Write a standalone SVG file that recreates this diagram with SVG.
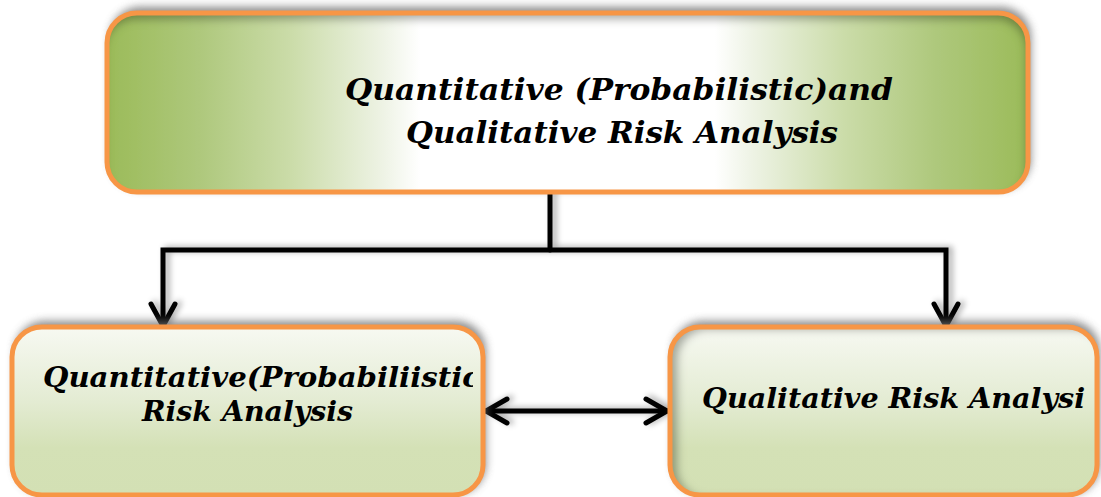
<svg xmlns="http://www.w3.org/2000/svg" width="1101" height="497" viewBox="0 0 1101 497">
  <defs>
    <linearGradient id="gradTop" x1="0" y1="0" x2="1" y2="0">
      <stop offset="0" stop-color="#9BBB59"/>
      <stop offset="0.1" stop-color="#AEC87C"/>
      <stop offset="0.2" stop-color="#CBDCA9"/>
      <stop offset="0.3" stop-color="#EEF3E5"/>
      <stop offset="0.34" stop-color="#FFFFFF"/>
      <stop offset="0.66" stop-color="#FFFFFF"/>
      <stop offset="0.7" stop-color="#EEF3E5"/>
      <stop offset="0.8" stop-color="#CBDCA9"/>
      <stop offset="0.9" stop-color="#AEC87C"/>
      <stop offset="1" stop-color="#9BBB59"/>
    </linearGradient>
    <linearGradient id="gradLow" x1="0" y1="0" x2="0" y2="1">
      <stop offset="0" stop-color="#F7F9F2"/>
      <stop offset="0.45" stop-color="#E3EBD2"/>
      <stop offset="0.72" stop-color="#D4E1B6"/>
      <stop offset="1" stop-color="#D3E0B4"/>
    </linearGradient>
    <filter id="outerShadow" x="-10%" y="-20%" width="120%" height="140%">
      <feGaussianBlur stdDeviation="4"/>
    </filter>
    <filter id="lineShadow" x="-10%" y="-20%" width="120%" height="140%">
      <feGaussianBlur in="SourceAlpha" stdDeviation="3" result="b"/>
      <feOffset dx="4" dy="-1" result="o"/>
      <feComponentTransfer in="o" result="s">
        <feFuncA type="linear" slope="0.35"/>
      </feComponentTransfer>
      <feMerge>
        <feMergeNode in="s"/>
        <feMergeNode in="SourceGraphic"/>
      </feMerge>
    </filter>
    <filter id="insetTop" x="-5%" y="-10%" width="110%" height="120%">
      <feFlood flood-color="#3a4028" flood-opacity="0.6"/>
      <feComposite in2="SourceAlpha" operator="out"/>
      <feOffset dx="-2" dy="7"/>
      <feGaussianBlur stdDeviation="4"/>
      <feComposite in2="SourceAlpha" operator="in" result="inner"/>
      <feMerge>
        <feMergeNode in="SourceGraphic"/>
        <feMergeNode in="inner"/>
      </feMerge>
    </filter>
    <filter id="insetLeft" x="-5%" y="-10%" width="110%" height="120%">
      <feFlood flood-color="#3a4028" flood-opacity="0.6"/>
      <feComposite in2="SourceAlpha" operator="out"/>
      <feOffset dx="8" dy="3"/>
      <feGaussianBlur stdDeviation="4"/>
      <feComposite in2="SourceAlpha" operator="in" result="inner"/>
      <feMerge>
        <feMergeNode in="SourceGraphic"/>
        <feMergeNode in="inner"/>
      </feMerge>
    </filter>
    <clipPath id="clipLeft">
      <rect x="14" y="329" width="459" height="164"/>
    </clipPath>
    <clipPath id="clipRight">
      <rect x="672" y="329" width="415" height="164"/>
    </clipPath>
  </defs>
  <style>
    .shadow { fill: #6e6e6e; opacity: 0.8; }
    .border { fill: none; stroke: #F79646; stroke-width: 5; }
    .label { font-family: "DejaVu Serif", "Liberation Serif", serif; font-style: italic; font-weight: bold; fill: #000; }
    .big { font-size: 30px; }
    .small { font-size: 28px; }
    .wire { fill: none; stroke: #000; stroke-width: 5; stroke-linecap: round; stroke-linejoin: miter; }
  </style>

  <rect width="1101" height="497" fill="#FFFFFF"/>

  <!-- connectors -->
  <g id="connectors" filter="url(#lineShadow)">
    <path class="wire" d="M550 192 V250" stroke-linecap="butt"/>
    <path class="wire" d="M163 325 V250 H946 V325" stroke-linecap="butt"/>
    <polyline class="wire" points="151,304 163,326 175,304" stroke-linejoin="round"/>
    <polyline class="wire" points="934,304 946,326 958,304" stroke-linejoin="round"/>
    <path class="wire" d="M486 411 H667"/>
    <polyline class="wire" points="507,399 486,411 507,423" stroke-linejoin="round"/>
    <polyline class="wire" points="646,399 667,411 646,423" stroke-linejoin="round"/>
  </g>

  <!-- top node -->
  <g id="node-top">
    <rect class="shadow" x="110" y="7" width="921" height="182" rx="30" filter="url(#outerShadow)"/>
    <rect x="107" y="13" width="921" height="179" rx="30" fill="url(#gradTop)" filter="url(#insetTop)"/>
    <rect class="border" x="107" y="13" width="921" height="179" rx="30"/>
    <text class="label big" x="345" y="100" textLength="548" lengthAdjust="spacingAndGlyphs">Quantitative (Probabilistic)and</text>
    <text class="label big" x="406" y="143" textLength="432" lengthAdjust="spacingAndGlyphs">Qualitative Risk Analysis</text>
  </g>

  <!-- bottom left node -->
  <g id="node-quantitative">
    <rect class="shadow" x="15" y="321" width="471" height="173" rx="30" filter="url(#outerShadow)"/>
    <rect x="12" y="327" width="471" height="168" rx="30" fill="url(#gradLow)"/>
    <rect class="border" x="12" y="327" width="471" height="168" rx="30"/>
    <g clip-path="url(#clipLeft)">
      <text class="label small" x="43" y="387" textLength="437" lengthAdjust="spacingAndGlyphs">Quantitative(Probabiliistic</text>
    </g>
    <text class="label small" x="142" y="421" textLength="211" lengthAdjust="spacingAndGlyphs">Risk Analysis</text>
  </g>

  <!-- bottom right node -->
  <g id="node-qualitative">
    <rect class="shadow" x="673" y="321" width="427" height="173" rx="30" filter="url(#outerShadow)"/>
    <rect x="670" y="327" width="427" height="168" rx="30" fill="url(#gradLow)" filter="url(#insetLeft)"/>
    <rect class="border" x="670" y="327" width="427" height="168" rx="30"/>
    <g clip-path="url(#clipRight)">
      <text class="label small" x="702" y="408" textLength="383" lengthAdjust="spacingAndGlyphs">Qualitative Risk Analysi</text>
    </g>
  </g>
</svg>
